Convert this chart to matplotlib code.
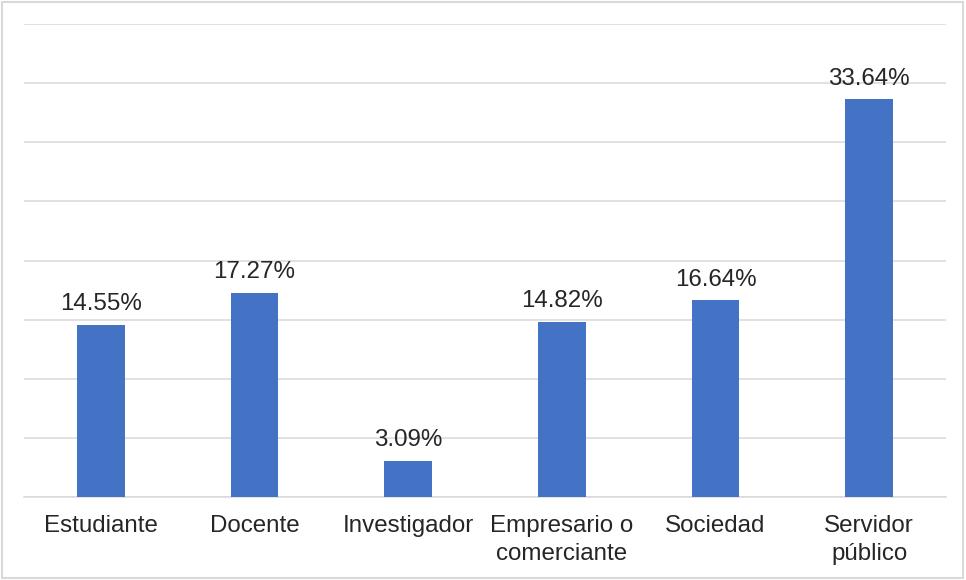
import matplotlib
matplotlib.use("Agg")
import matplotlib.pyplot as plt
from matplotlib.patches import Rectangle

categories = ["Estudiante", "Docente", "Investigador", "Empresario o\ncomerciante",
              "Sociedad", "Servidor\npúblico"]
values = [14.55, 17.27, 3.09, 14.82, 16.64, 33.64]
labels = ["14.55%", "17.27%", "3.09%", "14.82%", "16.64%", "33.64%"]

plt.rcParams["font.family"] = ["Liberation Sans", "DejaVu Sans"]
txt = "#262626"
grid = "#d9d9d9"

fig = plt.figure(figsize=(9.66, 5.8), dpi=100)
ax = fig.add_axes([0.0248, 0.143, 0.9545, 0.8156])

x = range(len(categories))
ax.bar(x, values, width=0.31, color="#4472C4", zorder=3)
for i, v in enumerate(values):
    ax.annotate(labels[i], (i, v), xytext=(0, 7), textcoords="offset points",
                ha="center", va="bottom", fontsize=17.4, color=txt, zorder=4)

ax.set_xlim(-0.5, len(categories) - 0.5)
ax.set_ylim(0, 40)
ax.set_yticks(range(0, 41, 5))
ax.yaxis.grid(True, color=grid, linewidth=1.1, zorder=0)
ax.tick_params(axis="y", left=False, labelleft=False)
ax.tick_params(axis="x", length=0, pad=13, labelsize=17.4, labelcolor=txt)
ax.set_xticks(list(x))
ax.set_xticklabels(categories, linespacing=1.35)
for s in ["top", "right", "left"]:
    ax.spines[s].set_visible(False)
ax.spines["bottom"].set_color(grid)
ax.spines["bottom"].set_linewidth(1.1)

fig.patches.append(Rectangle((0.002, 0.003), 0.995, 0.994, transform=fig.transFigure,
                             fill=False, edgecolor=grid, linewidth=1.5))

fig.savefig("out.png", dpi=100)
